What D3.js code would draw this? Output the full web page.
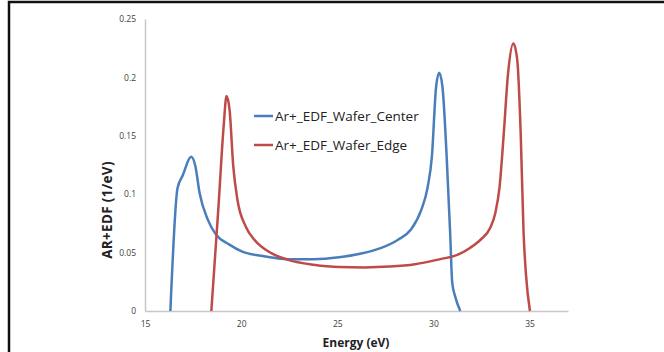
<!DOCTYPE html>
<html>
<head>
<meta charset="utf-8">
<script src="https://cdn.jsdelivr.net/npm/d3@7"></script>
<style>
  body { margin: 0; background: #fff; }
  svg { display: block; }
  .tick text { font-family: "Open Sans", sans-serif; font-size: 8.5px; fill: #404040; }
</style>
</head>
<body>
<svg width="664" height="352"></svg>
<script>
// Ar+ energy distribution
let centerE   = [16.32, 16.69, 16.96, 17.40, 17.62, 17.84, 18.27, 18.71, 19.37, 20.03, 21.13, 22.45, 23.77, 25.09, 26.19, 27.29, 28.16, 28.82, 29.37, 29.70, 29.92, 30.14, 30.30, 30.47, 30.69, 30.87, 30.98, 31.13, 31.40]
let centerEDF = [0, 0.105, 0.116, 0.132, 0.124, 0.101, 0.078, 0.065, 0.057, 0.051, 0.047, 0.0444, 0.0444, 0.046, 0.049, 0.054, 0.061, 0.0695, 0.0866, 0.106, 0.132, 0.192, 0.204, 0.192, 0.132, 0.067, 0.024, 0.0125, 0]
let edgeE   = [18.45, 18.82, 19.09, 19.24, 19.40, 19.59, 19.81, 20.25, 20.69, 21.57, 22.45, 23.77, 25.09, 26.41, 27.73, 29.04, 30.36, 31.24, 31.90, 32.45, 32.95, 33.22, 33.44, 33.66, 33.88, 34.16, 34.36, 34.54, 34.69, 34.82, 35.02]
let edgeEDF = [0, 0.089, 0.158, 0.184, 0.172, 0.124, 0.095, 0.072, 0.061, 0.0495, 0.0438, 0.0396, 0.0376, 0.0373, 0.038, 0.040, 0.0444, 0.048, 0.054, 0.061, 0.071, 0.084, 0.106, 0.152, 0.203, 0.229, 0.215, 0.152, 0.067, 0.030, 0]
let seriesNames = ['Ar+_EDF_Wafer_Center', 'Ar+_EDF_Wafer_Edge']
let seriesColors = ['#4a7ebb', '#be4b48']
let xTicks = [15, 20, 25, 30, 35]
let yTicks = [0, 0.05, 0.1, 0.15, 0.2, 0.25]

let svg = d3.select('svg')
let margin = {top: 19, bottom: 41, left: 145, right: 96}
let width = svg.attr('width') - margin.left - margin.right
let height = svg.attr('height') - margin.top - margin.bottom

// frame around the picture
svg.append('path')
    .attr('d', 'M9,352 V2 H664')
    .attr('fill', 'none')
    .attr('stroke', '#111')
    .attr('stroke-width', 2.5)

let xScale = d3.scaleLinear().domain([15, 37]).range([margin.left, margin.left + width])
let yScale = d3.scaleLinear().domain([0, 0.25]).range([height + margin.top, margin.top])

let series = [
    centerE.map((e, i) => ({e: e, v: centerEDF[i]})),
    edgeE.map((e, i) => ({e: e, v: edgeEDF[i]}))
]

//axes, no tick marks, light grey lines
svg.append('g')
    .attr('transform', 'translate(0,' + (height + margin.top) + ')')
    .call(d3.axisBottom(xScale).tickValues(xTicks).tickSize(0).tickPadding(10))
svg.append('g')
    .attr('transform', 'translate(' + margin.left + ',0)')
    .call(d3.axisLeft(yScale).tickValues(yTicks).tickSize(0).tickPadding(9).tickFormat(d3.format('~g')))
svg.selectAll('.domain').attr('stroke', '#c8c8c8').attr('stroke-width', 1.5)

let line = d3.line()
    .x(d => xScale(d.e))
    .y(d => yScale(d.v))
    .curve(d3.curveMonotoneX)

svg.selectAll('.series')
    .data(series)
    .enter()
    .append('path')
    .attr('class', 'series')
    .attr('d', line)
    .attr('fill', 'none')
    .attr('stroke', (d, i) => seriesColors[i])
    .attr('stroke-width', 2.5)

//axis titles
svg.append('text')
    .attr('text-anchor', 'middle')
    .attr('x', 356)
    .attr('y', 347)
    .style('font-family', '"Open Sans", sans-serif')
    .style('font-weight', 'bold')
    .style('font-size', '12px')
    .attr('fill', '#222')
    .text('Energy (eV)')
svg.append('text')
    .attr('text-anchor', 'middle')
    .attr('transform', 'translate(112,210) rotate(-90)')
    .style('font-family', '"Open Sans", sans-serif')
    .style('font-weight', 'bold')
    .style('font-size', '13.5px')
    .style('letter-spacing', '0.3px')
    .attr('fill', '#222')
    .text('AR+EDF (1/eV)')

//legend
let legend = svg.append('g').attr('transform', 'translate(254,116)')
seriesNames.forEach((name, i) => {
    let g = legend.append('g').attr('transform', 'translate(0,' + (i * 29) + ')')
    g.append('line')
        .attr('x1', 0).attr('x2', 19)
        .attr('stroke', seriesColors[i])
        .attr('stroke-width', 2.5)
    g.append('text')
        .attr('x', 21)
        .attr('dy', '0.35em')
        .style('font-family', '"Open Sans", sans-serif')
        .style('font-size', '13.5px')
        .attr('fill', '#222')
        .text(name)
})
</script>
</body>
</html>
